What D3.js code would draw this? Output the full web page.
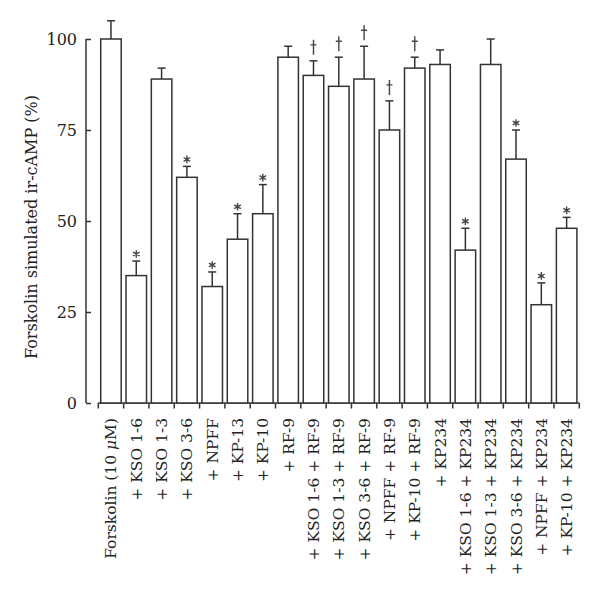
<!DOCTYPE html>
<html><head><meta charset="utf-8">
<script src="https://cdn.jsdelivr.net/npm/d3@7"></script>
<style>body{margin:0;background:#fff}</style>
</head><body>
<svg id="c" width="600" height="598"></svg>
<script>
const categories = [
  "Forskolin (10 μM)", "+ KSO 1-6", "+ KSO 1-3", "+ KSO 3-6", "+ NPFF", "+ KP-13", "+ KP-10", "+ RF-9",
  "+ KSO 1-6 + RF-9", "+ KSO 1-3 + RF-9", "+ KSO 3-6 + RF-9", "+ NPFF + RF-9", "+ KP-10 + RF-9",
  "+ KP234", "+ KSO 1-6 + KP234", "+ KSO 1-3 + KP234", "+ KSO 3-6 + KP234", "+ NPFF + KP234", "+ KP-10 + KP234"
];
const values  = [100, 35, 89, 62, 32, 45, 52, 95, 90, 87, 89, 75, 92, 93, 42, 93, 67, 27, 48];
const errTops = [105, 39, 92, 65, 36, 52, 60, 98, 94, 95, 98, 83, 95, 97, 48, 100, 75, 33, 51];
const marks   = ["", "*", "", "*", "*", "*", "*", "", "†", "†", "†", "†", "†", "", "*", "", "*", "*", "*"];
const yTicks  = [0, 25, 50, 75, 100];
const yTitle  = "Forskolin simulated ir-cAMP (%)";

const svg = d3.select("#c");
const ink = "#333";
const font = "DejaVu Serif";

const y = d3.scaleLinear().domain([0, 100]).range([403, 39]);
const x = d3.scaleBand().domain(d3.range(categories.length)).range([98.3, 579.3]).paddingInner(0.19).paddingOuter(0.095);

// y axis
const yAxis = d3.axisRight(y).tickValues(yTicks).tickSize(5).tickFormat(d3.format("d"));
const ya = svg.append("g").attr("transform", "translate(86,0)").call(yAxis);
ya.select(".domain").attr("d", `M0,${y(100)}V${y(0)}`).attr("stroke", ink).attr("stroke-width", 1.5);
ya.selectAll(".tick line").attr("stroke", ink).attr("stroke-width", 1.5);
ya.selectAll(".tick text").attr("x", -9).attr("text-anchor", "end").attr("dy", "0.35em")
  .attr("font-family", font).attr("font-size", 16).attr("fill", "#222");

// x axis
const xb = d3.scaleLinear().domain([0, categories.length]).range([98.3, 579.3]);
const xg = svg.append("g");
xg.append("line").attr("x1", xb(0)).attr("x2", xb(categories.length)).attr("y1", 403).attr("y2", 403)
  .attr("stroke", ink).attr("stroke-width", 1.5);
xg.selectAll("line.t").data(d3.range(categories.length + 1)).join("line").attr("class", "t")
  .attr("x1", d => xb(d)).attr("x2", d => xb(d)).attr("y1", 403).attr("y2", 408.5)
  .attr("stroke", ink).attr("stroke-width", 1.5);

// bars
svg.append("g").selectAll("rect").data(values).join("rect")
  .attr("x", (d, i) => x(i)).attr("width", x.bandwidth())
  .attr("y", d => y(d)).attr("height", d => y(0) - y(d))
  .attr("fill", "#fff").attr("stroke", ink).attr("stroke-width", 1.5);

// error bars
const eg = svg.append("g").attr("stroke", ink).attr("stroke-width", 1.5);
values.forEach((v, i) => {
  const cx = x(i) + x.bandwidth() / 2;
  eg.append("line").attr("x1", cx).attr("x2", cx).attr("y1", y(v)).attr("y2", y(errTops[i]));
  eg.append("line").attr("x1", cx - 4).attr("x2", cx + 4).attr("y1", y(errTops[i])).attr("y2", y(errTops[i]));
});

// significance marks (drawn as paths)
const star = d3.symbol(d3.symbolAsterisk, 40)();
const dagger = "M0,-9V6M-3,-4H3";
const mg = svg.append("g").attr("fill", "none").attr("stroke", "#444").attr("stroke-width", 1.4);
marks.forEach((m, i) => {
  if (!m) return;
  const cx = x(i) + x.bandwidth() / 2;
  const top = y(errTops[i]);
  if (m === "*") {
    mg.append("path").attr("d", star).attr("transform", `translate(${cx},${top - 7})`);
  } else {
    mg.append("path").attr("d", dagger).attr("transform", `translate(${cx},${top - 12})`);
  }
});

// x labels
const lab = svg.append("g").selectAll("text").data(categories).join("text")
  .attr("transform", (d, i) => `translate(${x(i) + x.bandwidth() / 2 + 5.5},418) rotate(-90)`)
  .attr("text-anchor", "end").attr("font-family", font).attr("font-size", 15.5).attr("fill", "#222");
lab.each(function(d) {
  const t = d3.select(this);
  if (d.includes("μ")) {
    const parts = d.split("μ");
    t.append("tspan").text(parts[0]);
    t.append("tspan").attr("font-style", "italic").text("μ");
    t.append("tspan").text(parts[1]);
  } else t.text(d);
});

// y title
svg.append("text").attr("transform", "translate(37,227) rotate(-90)")
  .attr("text-anchor", "middle").attr("font-family", font).attr("font-size", 16).attr("fill", "#222")
  .text(yTitle);
</script>
</body></html>
